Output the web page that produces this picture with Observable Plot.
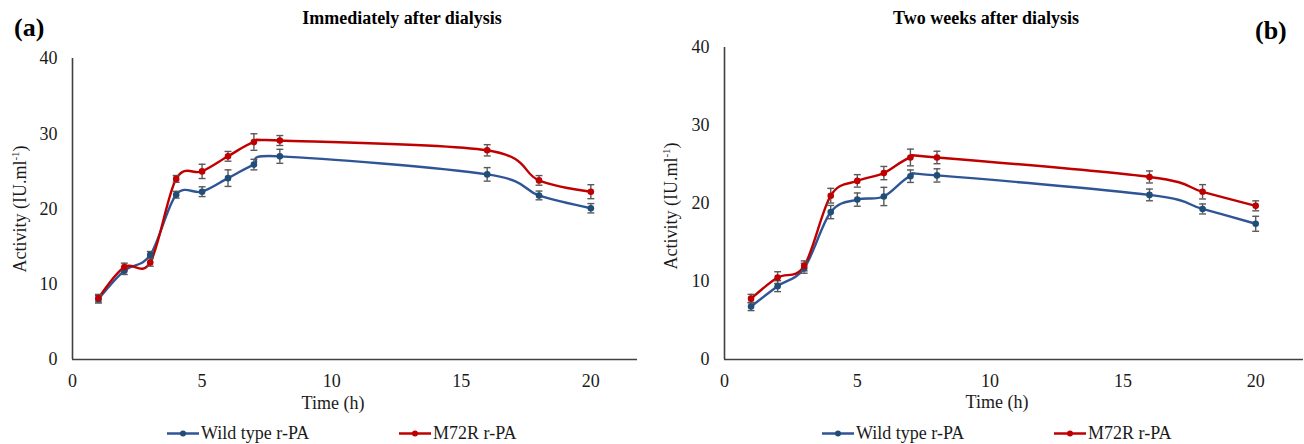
<!DOCTYPE html>
<html>
<head>
<meta charset="utf-8">
<script src="https://cdn.jsdelivr.net/npm/d3@7"></script>
<script src="https://cdn.jsdelivr.net/npm/@observablehq/plot@0.6"></script>
<style>
  html, body { margin: 0; padding: 0; background: #fff; }
  #wrap { position: relative; width: 1304px; height: 444px; overflow: hidden;
          font-family: "Liberation Serif", "Times New Roman", serif; color: #1a1a1a; }
  .abs { position: absolute; white-space: nowrap; }
  .panel-tag { font-weight: bold; font-size: 26px; color: #000; }
  .title { font-weight: bold; font-size: 18px; color: #000; transform: translate(-50%, -50%); }
  .ylab { font-size: 18px; transform: translate(-50%, -50%) rotate(-90deg); }
  .xlab { font-size: 18px; transform: translate(-50%, -50%); }
  .leg { font-size: 18px; display: flex; align-items: center; transform: translateY(-50%); }
  .leg svg { margin-right: 2px; }
  sup { font-size: 11px; }
</style>
</head>
<body>
<div id="wrap"></div>
<script>
// ---- data ----
const hours = [1, 2, 3, 4, 5, 6, 7, 8, 16, 18, 20];
const seriesNames = ["Wild type r-PA", "M72R r-PA"];
const seriesColors = ["#2F5597", "#C00000"];
const markerColors = ["#1F4E79", "#C00000"];
const xTicks = [0, 5, 10, 15, 20];
const yTicks = [0, 10, 20, 30, 40];
const panelTitles = ["Immediately after dialysis", "Two weeks after dialysis"];
const panelTags = ["(a)", "(b)"];
const xLabel = "Time (h)";

// Panel (a): immediately after dialysis
const wildA    = [8.0, 11.8, 13.9, 21.9, 22.3, 24.1, 25.9, 27.0, 24.6, 21.8, 20.1];
const wildAErr = [0.5, 0.5, 0.45, 0.45, 0.65, 1.1, 0.7, 0.93, 0.9, 0.58, 0.62];
const mutA     = [8.15, 12.3, 12.9, 24.0, 25.0, 27.0, 28.9, 29.1, 27.8, 23.8, 22.3];
const mutAErr  = [0.5, 0.5, 0.5, 0.45, 0.95, 0.65, 1.1, 0.66, 0.75, 0.64, 0.93];

// Panel (b): two weeks after dialysis
const wildB    = [6.8, 9.4, 11.7, 18.9, 20.5, 20.9, 23.5, 23.6, 21.1, 19.3, 17.4];
const wildBErr = [0.53, 0.7, 0.64, 0.85, 0.85, 1.17, 0.8, 0.85, 0.75, 0.64, 0.96];
const mutB     = [7.8, 10.5, 12.0, 21.0, 22.9, 23.9, 25.9, 25.9, 23.4, 21.5, 19.7];
const mutBErr  = [0.55, 0.75, 0.64, 0.94, 0.8, 0.85, 1.07, 0.8, 0.77, 0.92, 0.64];

// ---- helpers ----
function rows(vals, errs, s) {
  return hours.map((h, i) => ({h, v: vals[i], e: errs[i], s}));
}
const cap = {
  draw(ctx, size) {
    const w = Math.sqrt(size);
    ctx.moveTo(-w / 2, 0);
    ctx.lineTo(w / 2, 0);
  }
};

function panel(wild, wildErr, mut, mutErr, opts) {
  const sets = [rows(wild, wildErr, seriesNames[0]), rows(mut, mutErr, seriesNames[1])];
  const all = sets.flat();
  const marks = [
    Plot.axisY({ticks: yTicks, tickSize: 0, tickPadding: 15, label: null, fill: "#1a1a1a"}),
    Plot.axisX({ticks: xTicks, tickSize: 0, tickPadding: 15, label: null, fill: "#1a1a1a"}),
    Plot.ruleX([0], {stroke: "#404040", strokeWidth: 1.6}),
    Plot.ruleY([0], {stroke: "#404040", strokeWidth: 1.6})
  ];
  sets.forEach((d, i) => {
    marks.push(Plot.line(d, {x: "h", y: "v", stroke: seriesColors[i], strokeWidth: 2.4, curve: "cardinal", tension: 0}));
  });
  marks.push(
    Plot.ruleX(all, {x: "h", y1: d => d.v - d.e, y2: d => d.v + d.e, stroke: "#595959", strokeWidth: 1.4}),
    Plot.dot(all, {x: "h", y: d => d.v - d.e, symbol: cap, r: 3.9, stroke: "#595959", strokeWidth: 1.4}),
    Plot.dot(all, {x: "h", y: d => d.v + d.e, symbol: cap, r: 3.9, stroke: "#595959", strokeWidth: 1.4})
  );
  sets.forEach((d, i) => {
    marks.push(Plot.dot(d, {x: "h", y: "v", fill: markerColors[i], r: 3.3}));
  });
  return Plot.plot({
    width: 652,
    height: 350,
    marginTop: opts.marginTop,
    marginBottom: 31,
    marginLeft: 72,
    marginRight: opts.marginRight,
    x: {domain: [0, 21.8]},
    y: {domain: [0, 40]},
    style: {fontFamily: "'Liberation Serif', 'Times New Roman', serif", fontSize: "18px", background: "transparent", overflow: "visible"},
    marks
  });
}

const wrap = document.getElementById("wrap");
function place(node, left, top) {
  node.style.position = "absolute";
  node.style.left = left + "px";
  node.style.top = top + "px";
  wrap.appendChild(node);
}
function addText(cls, html, left, top) {
  const d = document.createElement("div");
  d.className = "abs " + cls;
  d.innerHTML = html;
  d.style.left = left + "px";
  d.style.top = top + "px";
  wrap.appendChild(d);
  return d;
}
function swatch(color, mcolor) {
  return `<svg width="32" height="10"><line x1="0" y1="5" x2="32" y2="5" stroke="${color}" stroke-width="2.4"/><circle cx="16" cy="5" r="3" fill="${mcolor}"/></svg>`;
}

// ---- panels ----
place(panel(wildA, wildAErr, mutA, mutAErr, {marginTop: 18, marginRight: 15}), 0, 40);
place(panel(wildB, wildBErr, mutB, mutBErr, {marginTop: 7, marginRight: 1}), 652, 40);

// titles & tags
addText("panel-tag", panelTags[0], 14, 13);
addText("panel-tag", panelTags[1], 1255, 16);
addText("title", panelTitles[0], 402, 18);
addText("title", panelTitles[1], 986, 18);

// axis labels
const yl = "Activity (IU.ml<sup>-1</sup>)";
addText("ylab", yl, 20, 209);
addText("ylab", yl, 671, 206);
addText("xlab", xLabel, 333, 403);
addText("xlab", xLabel, 997, 402);

// legends
const legPos = [[[167, 433], [399, 433]], [[822, 433], [1054, 433]]];
legPos.forEach(p => {
  p.forEach((pos, i) => {
    addText("leg", swatch(seriesColors[i], markerColors[i]) + seriesNames[i], pos[0], pos[1]);
  });
});
</script>
</body>
</html>
